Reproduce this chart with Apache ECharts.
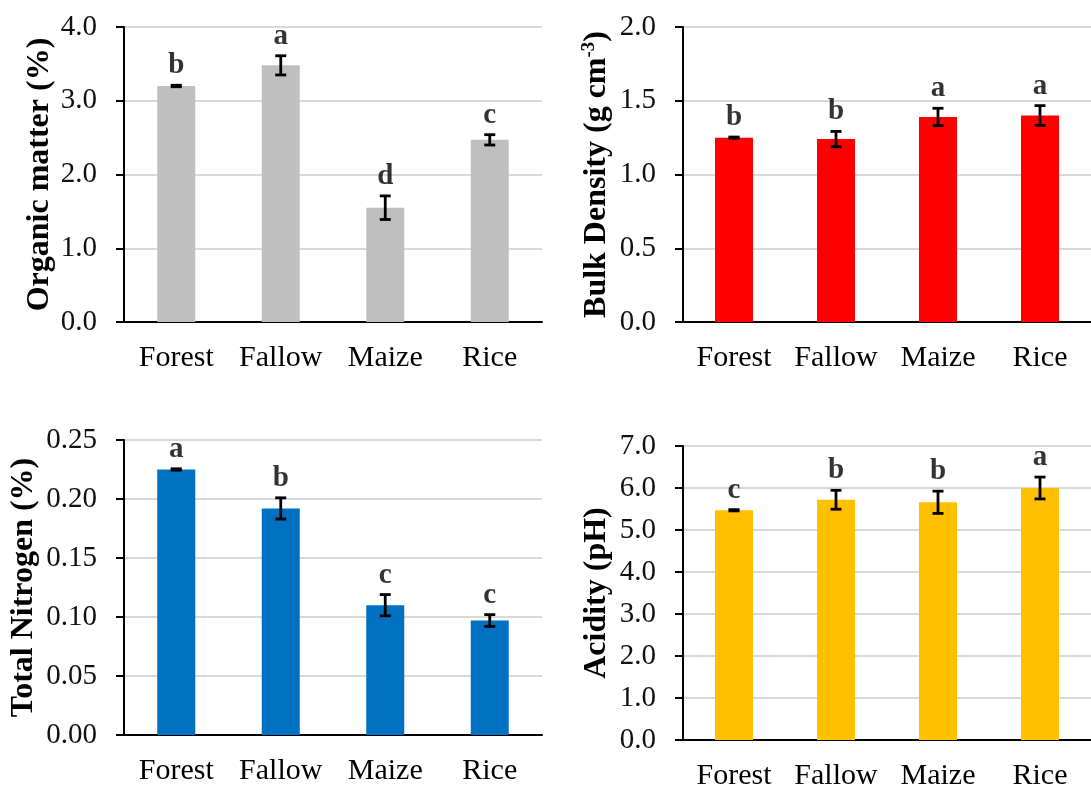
<!DOCTYPE html>
<html>
<head>
<meta charset="utf-8">
<script src="https://cdn.jsdelivr.net/npm/echarts@6/dist/echarts.min.js"></script>
<style>html,body{margin:0;padding:0;background:#fff;}#c{width:1091px;height:791px;}</style>
</head>
<body>
<div id="c"></div>
<script>
const categories = ['Forest', 'Fallow', 'Maize', 'Rice'];

const organicMatter = [3.20, 3.48, 1.55, 2.47];
const organicMatterErr = [0.01, 0.13, 0.16, 0.07];
const organicMatterLetters = ['b', 'a', 'd', 'c'];

const bulkDensity = [1.25, 1.24, 1.39, 1.40];
const bulkDensityErr = [0.004, 0.052, 0.059, 0.067];
const bulkDensityLetters = ['b', 'b', 'a', 'a'];

const totalNitrogen = [0.225, 0.192, 0.110, 0.097];
const totalNitrogenErr = [0.0006, 0.009, 0.009, 0.005];
const totalNitrogenLetters = ['a', 'b', 'c', 'c'];

const acidity = [5.47, 5.72, 5.66, 6.00];
const acidityErr = [0.015, 0.225, 0.265, 0.26];
const acidityLetters = ['c', 'b', 'b', 'a'];

const panels = [
  { values: organicMatter, errs: organicMatterErr, letters: organicMatterLetters, color: '#bfbfbf',
    name: 'Organic matter (%)', max: 4, interval: 1, dec: 1,
    grid: { left: 124, top: 27, width: 418, height: 295 }, nameGap: 68 },
  { values: bulkDensity, errs: bulkDensityErr, letters: bulkDensityLetters, color: '#ff0000',
    name: 'Bulk Density (g cm{sup|-3})', max: 2, interval: 0.5, dec: 1,
    grid: { left: 683, top: 27, width: 418, height: 295 }, nameGap: 70 },
  { values: totalNitrogen, errs: totalNitrogenErr, letters: totalNitrogenLetters, color: '#0070c0',
    name: 'Total Nitrogen (%)', max: 0.25, interval: 0.05, dec: 2,
    grid: { left: 124, top: 440, width: 418, height: 295 }, nameGap: 84 },
  { values: acidity, errs: acidityErr, letters: acidityLetters, color: '#ffc000',
    name: 'Acidity (pH)', max: 7, interval: 1, dec: 1,
    grid: { left: 683, top: 446, width: 418, height: 297 }, nameGap: 70 }
];

const FONT = '"Liberation Serif", "Times New Roman", serif';
const grids = [], xAxes = [], yAxes = [], series = [];

panels.forEach((p, i) => {
  grids.push(Object.assign({ containLabel: false }, p.grid));
  xAxes.push({
    type: 'category', gridIndex: i, data: categories,
    axisLine: { lineStyle: { color: '#000', width: 2 } },
    axisTick: { show: false },
    axisLabel: { interval: 0, color: '#000', fontFamily: FONT, fontSize: 30, margin: 21 }
  });
  yAxes.push({
    type: 'value', gridIndex: i, min: 0, max: p.max, interval: p.interval,
    name: p.name, nameLocation: 'middle', nameGap: p.nameGap, nameRotate: 90,
    nameTextStyle: {
      color: '#000', fontFamily: FONT, fontSize: 32, fontWeight: 'bold',
      rich: { sup: { fontFamily: FONT, fontSize: 19, fontWeight: 'bold', color: '#000', padding: [0, 0, 14, 0] } }
    },
    axisLine: { show: true, lineStyle: { color: '#000', width: 2 } },
    axisTick: { show: true, inside: false, length: 8, lineStyle: { color: '#000', width: 2 } },
    axisLabel: { color: '#111', fontFamily: FONT, fontSize: 29, margin: 27,
      formatter: v => v.toFixed(p.dec) },
    splitLine: { show: true, lineStyle: { color: '#d9d9d9', width: 2 } }
  });
  series.push({
    type: 'bar', xAxisIndex: i, yAxisIndex: i, data: p.values, barWidth: 38,
    itemStyle: { color: p.color }, silent: true, animation: false
  });
  series.push({
    type: 'custom', xAxisIndex: i, yAxisIndex: i, animation: false, silent: true, z: 5,
    data: p.values.map((v, k) => [k, v, p.errs[k]]),
    renderItem: function (params, api) {
      const x = api.value(0), m = api.value(1), e = api.value(2);
      const top = api.coord([x, m + e]);
      const bot = api.coord([x, m - e]);
      const hw = 5.5;
      const st = { stroke: '#000', lineWidth: 2.8 };
      return { type: 'group', children: [
        { type: 'line', shape: { x1: top[0], y1: top[1], x2: bot[0], y2: bot[1] }, style: st },
        { type: 'line', shape: { x1: top[0] - hw, y1: top[1], x2: top[0] + hw, y2: top[1] }, style: st },
        { type: 'line', shape: { x1: bot[0] - hw, y1: bot[1], x2: bot[0] + hw, y2: bot[1] }, style: st }
      ] };
    }
  });
  series.push({
    type: 'scatter', xAxisIndex: i, yAxisIndex: i, symbolSize: 0, animation: false, silent: true, z: 6,
    data: p.values.map((v, k) => [k, v + p.errs[k]]),
    label: { show: true, position: 'top', distance: 5, color: '#000', fontFamily: FONT,
      fontSize: 29, fontWeight: 'bold', formatter: params => p.letters[params.dataIndex] }
  });
});

const chart = echarts.init(document.getElementById('c'), null, { renderer: 'canvas' });
chart.setOption({ backgroundColor: '#fff', animation: false, grid: grids, xAxis: xAxes, yAxis: yAxes, series: series });
</script>
</body>
</html>
